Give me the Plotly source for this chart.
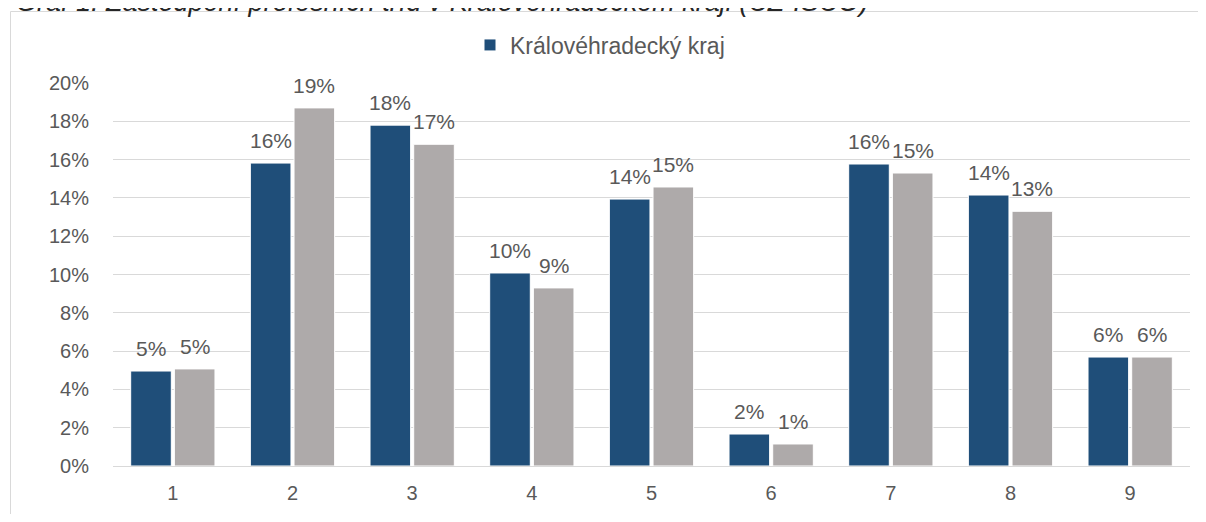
import plotly.graph_objects as go

categories = ["1", "2", "3", "4", "5", "6", "7", "8", "9"]
kraj_values = [4.96, 15.82, 17.8, 10.08, 13.94, 1.67, 15.77, 14.15, 5.69]
cr_values = [5.07, 18.7, 16.8, 9.3, 14.57, 1.15, 15.3, 13.3, 5.69]
y_ticks = [0, 2, 4, 6, 8, 10, 12, 14, 16, 18, 20]
y_tick_labels = [f"{t}%" for t in y_ticks]
title_text = "Graf 1: Zastoupení profesních tříd v Královéhradeckém kraji (CZ-ISCO)"
series_names = ["Královéhradecký kraj", "ČR"]

BLUE = "#1f4e79"
GREY = "#aeaaaa"
TXT = "#595959"
FONT = "Liberation Sans, Arial, sans-serif"

# page has an 8px body margin; design in page pixels, convert to figure pixels
OFF = 8
W, H = 1206 - 2 * OFF, 522 - 2 * OFF
L, T = 113 - OFF, 83 - OFF
R = W - (1190 - OFF)
B = H - (466 - OFF)
pw, ph = W - L - R, H - T - B

def px_x(x):
    return (x - OFF - L) / pw

def px_y(y):
    return (H - B - (y - OFF)) / ph

BARGAP, GROUPGAP = 0.27, 0.07

fig = go.Figure()
fig.add_trace(go.Bar(x=categories, y=kraj_values, name=series_names[0],
                     marker=dict(color=BLUE, line=dict(color="white", width=1))))
fig.add_trace(go.Bar(x=categories, y=cr_values, name=series_names[1], showlegend=False,
                     marker=dict(color=GREY, line=dict(color="white", width=1))))

half = (1 - BARGAP) / 4
annotations = []
for vals, sh in ((kraj_values, -half), (cr_values, half)):
    for i, v in enumerate(vals):
        annotations.append(dict(x=i + sh, y=v, xref="x", yref="y", text=f"{round(v)}%",
                                showarrow=False, yshift=9, yanchor="bottom",
                                font=dict(family=FONT, size=21, color=TXT)))

annotations.append(dict(x=px_x(14), y=px_y(19), xref="paper", yref="paper",
                        text=title_text, showarrow=False, xanchor="left", yanchor="bottom",
                        font=dict(family=FONT, size=27, color="#262626", style="italic")))

border = dict(color="#d9d9d9", width=1)
fig.update_layout(
    width=W, height=H,
    margin=dict(l=L, r=R, t=T, b=B, pad=0),
    paper_bgcolor="white", plot_bgcolor="white",
    barmode="group", bargap=BARGAP, bargroupgap=GROUPGAP,
    font=dict(family=FONT, size=20, color=TXT),
    showlegend=True,
    legend=dict(orientation="h", x=px_x(470), y=px_y(45), xanchor="left", yanchor="middle",
                font=dict(family=FONT, size=23, color=TXT), bgcolor="rgba(0,0,0,0)"),
    annotations=annotations,
    shapes=[
        dict(type="line", xref="paper", yref="paper", x0=px_x(10.5), x1=px_x(1230),
             y0=px_y(11.5), y1=px_y(11.5), line=border, layer="below"),
        dict(type="line", xref="paper", yref="paper", x0=px_x(10.5), x1=px_x(10.5),
             y0=px_y(11.5), y1=px_y(560), line=border, layer="below"),
    ],
)
fig.update_xaxes(showgrid=False, showline=False, ticks="", ticklabelstandoff=13,
                 tickfont=dict(family=FONT, size=20, color=TXT))
fig.update_yaxes(range=[0, 20], tickvals=y_ticks, ticktext=y_tick_labels, showgrid=True,
                 gridcolor="#d9d9d9", gridwidth=1, zeroline=True, zerolinecolor="#d9d9d9",
                 zerolinewidth=1, showline=False, ticks="", ticklabelstandoff=23,
                 tickfont=dict(family=FONT, size=20, color=TXT))

fig.write_html("out.html")
